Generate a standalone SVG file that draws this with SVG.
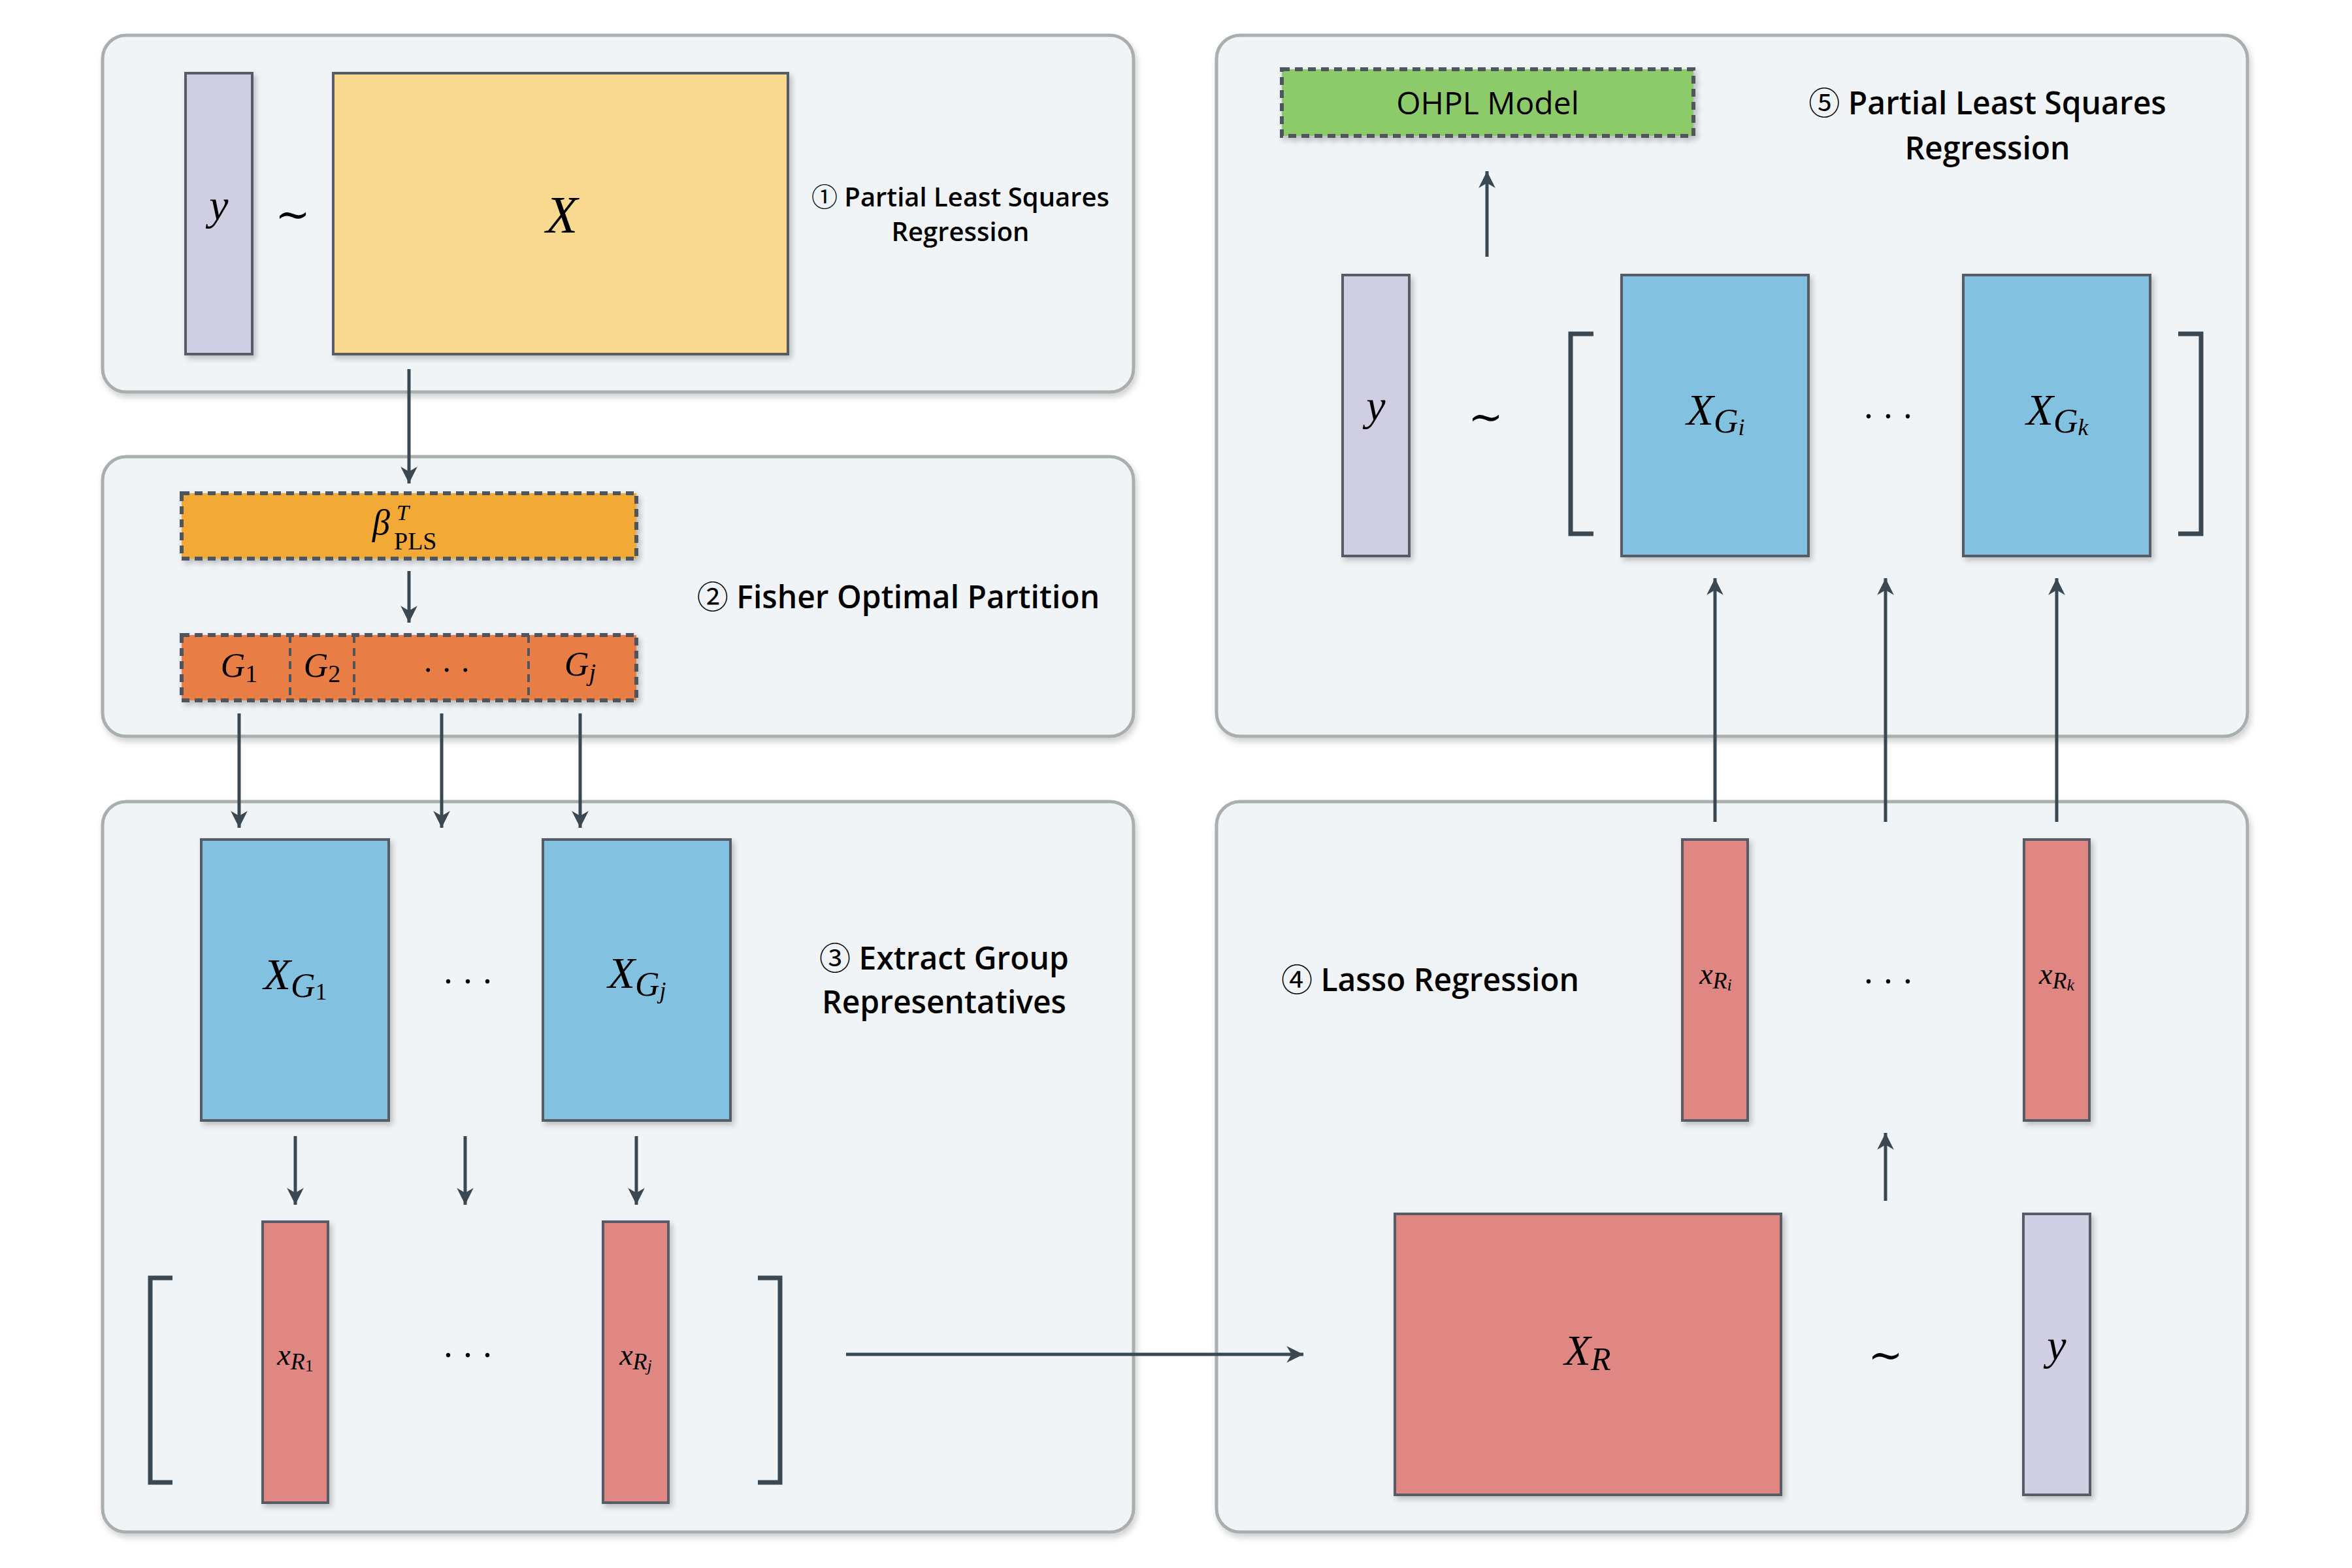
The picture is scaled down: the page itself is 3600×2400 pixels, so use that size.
<svg xmlns="http://www.w3.org/2000/svg" width="3600" height="2400" viewBox="0 0 3600 2400">
<defs>
<filter id="pshadow" x="-5%" y="-5%" width="110%" height="115%"><feDropShadow dx="3" dy="6" stdDeviation="5" flood-color="#000" flood-opacity="0.18"/></filter>
<filter id="nshadow" x="-10%" y="-10%" width="130%" height="130%"><feDropShadow dx="4" dy="5" stdDeviation="4" flood-color="#000" flood-opacity="0.22"/></filter>
<marker id="ah" markerUnits="userSpaceOnUse" markerWidth="30" markerHeight="30" viewBox="-26 -14 28 28" refX="0" refY="0" orient="auto">
<path d="M0,0 L-24,-12 L-17,0 L-24,12 Z" fill="#3b4852"/>
</marker>
<style>
.panel{fill:#f0f4f7;stroke:#a9aeae;stroke-width:5;filter:url(#pshadow)}
.box{stroke:#555c65;stroke-width:4;filter:url(#nshadow)}
.dash{stroke:#4f555c;stroke-width:6;stroke-dasharray:12 8;filter:url(#nshadow)}
.ydata{fill:#d0cee3}
.xdata{fill:#f9d98f}
.blue{fill:#82c2e0}
.red{fill:#e08783}
.conn{stroke:#3b4852;stroke-width:5;fill:none}
.brk{stroke:#3b4852;stroke-width:7;fill:none}
.lbl{font-family:"Open Sans","Noto Sans","DejaVu Sans",sans-serif;font-weight:600;fill:#000;text-anchor:middle}
.cd{font-family:"Noto Sans CJK JP","DejaVu Sans",sans-serif;font-weight:400}
.m{font-family:"Liberation Serif","DejaVu Serif",serif;font-style:italic;fill:#000;text-anchor:middle}
.up{font-style:normal}
.tl{font-family:"DejaVu Serif","DejaVu Sans",serif;fill:#000;text-anchor:middle}
.dots{font-family:"Liberation Serif",serif;fill:#000;letter-spacing:16px}
</style>
</defs>
<rect width="3600" height="2400" fill="#ffffff"/>

<g id="panels">
<rect id="panel1" class="panel" x="157" y="54" width="1578" height="546" rx="36"/>
<rect id="panel2" class="panel" x="157" y="699" width="1578" height="428" rx="36"/>
<rect id="panel3" class="panel" x="157" y="1227" width="1578" height="1118" rx="36"/>
<rect id="panel5" class="panel" x="1862" y="54" width="1578" height="1073" rx="36"/>
<rect id="panel4" class="panel" x="1862" y="1227" width="1578" height="1118" rx="36"/>
</g>

<g id="panel-labels">
<text class="lbl" x="1470" y="316" font-size="40"><tspan class="cd">①</tspan> Partial Least Squares</text>
<text class="lbl" x="1470" y="369" font-size="40">Regression</text>
<text class="lbl" x="1375" y="931" font-size="48"><tspan class="cd">②</tspan> Fisher Optimal Partition</text>
<text class="lbl" x="1445" y="1484" font-size="48"><tspan class="cd">③</tspan> Extract Group</text>
<text class="lbl" x="1445" y="1551" font-size="48">Representatives</text>
<text class="lbl" x="2189" y="1517" font-size="48"><tspan class="cd">④</tspan> Lasso Regression</text>
<text class="lbl" x="3042" y="175" font-size="48"><tspan class="cd">⑤</tspan> Partial Least Squares</text>
<text class="lbl" x="3042" y="244" font-size="48">Regression</text>
</g>

<g id="brackets">
<polyline class="brk" points="264,1956 230,1956 230,2269 264,2269"/>
<polyline class="brk" points="1160,1956 1194,1956 1194,2269 1160,2269"/>
<polyline class="brk" points="2439,511 2404,511 2404,817 2439,817"/>
<polyline class="brk" points="3334,511 3369,511 3369,817 3334,817"/>
</g>

<g id="connectors">
<line class="conn" x1="626" y1="565" x2="626" y2="740" marker-end="url(#ah)"/>
<line class="conn" x1="626" y1="874" x2="626" y2="953" marker-end="url(#ah)"/>
<line class="conn" x1="366" y1="1092" x2="366" y2="1267" marker-end="url(#ah)"/>
<line class="conn" x1="676" y1="1092" x2="676" y2="1267" marker-end="url(#ah)"/>
<line class="conn" x1="888" y1="1092" x2="888" y2="1267" marker-end="url(#ah)"/>
<line class="conn" x1="452" y1="1739" x2="452" y2="1844" marker-end="url(#ah)"/>
<line class="conn" x1="712" y1="1739" x2="712" y2="1844" marker-end="url(#ah)"/>
<line class="conn" x1="974" y1="1739" x2="974" y2="1844" marker-end="url(#ah)"/>
<line class="conn" x1="1295" y1="2073" x2="1995" y2="2073" marker-end="url(#ah)"/>
<line class="conn" x1="2886" y1="1838" x2="2886" y2="1734" marker-end="url(#ah)"/>
<line class="conn" x1="2625" y1="1258" x2="2625" y2="885" marker-end="url(#ah)"/>
<line class="conn" x1="2886" y1="1258" x2="2886" y2="885" marker-end="url(#ah)"/>
<line class="conn" x1="3148" y1="1258" x2="3148" y2="885" marker-end="url(#ah)"/>
<line class="conn" x1="2276" y1="393" x2="2276" y2="262" marker-end="url(#ah)"/>
</g>

<g id="node-y1">
<rect class="box ydata" x="284" y="112" width="102" height="430"/>
<text class="m" x="335" y="336" font-size="66">y</text>
</g>
<text class="tl" x="448" y="350" font-size="64">∼</text>
<g id="node-X">
<rect class="box xdata" x="510" y="112" width="696" height="430"/>
<text class="m" x="860" y="356" font-size="80">X</text>
</g>

<g id="node-beta">
<rect class="dash" x="278" y="755" width="696" height="100" fill="#f2a934"/>
<text class="m" x="570" y="818" font-size="54" style="text-anchor:start">β<tspan font-size="34" x="607" y="796">T</tspan><tspan class="up" font-size="38" x="603" y="841">PLS</tspan></text>
</g>

<g id="node-groups">
<rect class="dash" x="278" y="972" width="696" height="100" fill="#e87d45"/>
<line x1="444" y1="972" x2="444" y2="1072" stroke="#4f555c" stroke-width="4" stroke-dasharray="12 8"/>
<line x1="542" y1="972" x2="542" y2="1072" stroke="#4f555c" stroke-width="4" stroke-dasharray="12 8"/>
<line x1="809" y1="972" x2="809" y2="1072" stroke="#4f555c" stroke-width="4" stroke-dasharray="12 8"/>
<text class="m" x="366" y="1036" font-size="52">G<tspan class="up" font-size="38" dy="8">1</tspan></text>
<text class="m" x="493" y="1036" font-size="52">G<tspan class="up" font-size="38" dy="8">2</tspan></text>
<text class="dots" x="649" y="1028" font-size="50" letter-spacing="12">...</text>
<text class="m" x="888" y="1034" font-size="52">G<tspan font-size="38" dy="8">j</tspan></text>
</g>

<g id="node-XG1">
<rect class="box blue" x="308" y="1285" width="287" height="430"/>
<text class="m" x="452" y="1514" font-size="68">X<tspan font-size="52" dy="12">G</tspan><tspan class="up" font-size="36" dy="4">1</tspan></text>
</g>
<text class="dots" x="679" y="1505" font-size="56" letter-spacing="14">...</text>
<g id="node-XGj">
<rect class="box blue" x="831" y="1285" width="287" height="430"/>
<text class="m" x="975" y="1512" font-size="68">X<tspan font-size="52" dy="12">G</tspan><tspan font-size="36" dy="4">j</tspan></text>
</g>

<g id="node-xR1">
<rect class="box red" x="402" y="1870" width="100" height="430"/>
<text class="m" x="452" y="2089" font-size="46">x<tspan font-size="36" dy="7">R</tspan><tspan class="up" font-size="26" dy="3">1</tspan></text>
</g>
<text class="dots" x="679" y="2077" font-size="56" letter-spacing="14">...</text>
<g id="node-xRj">
<rect class="box red" x="923" y="1870" width="100" height="430"/>
<text class="m" x="973" y="2089" font-size="46">x<tspan font-size="36" dy="7">R</tspan><tspan font-size="26" dy="3">j</tspan></text>
</g>

<g id="node-XR">
<rect class="box red" x="2135" y="1858" width="591" height="430"/>
<text class="m" x="2430" y="2089" font-size="66">X<tspan font-size="50" dy="8">R</tspan></text>
</g>
<text class="tl" x="2886" y="2096" font-size="64">∼</text>
<g id="node-y4">
<rect class="box ydata" x="3097" y="1858" width="102" height="430"/>
<text class="m" x="3148" y="2081" font-size="66">y</text>
</g>

<g id="node-xRi">
<rect class="box red" x="2575" y="1285" width="100" height="430"/>
<text class="m" x="2626" y="1506" font-size="46">x<tspan font-size="36" dy="7">R</tspan><tspan font-size="26" dy="3">i</tspan></text>
</g>
<text class="dots" x="2853" y="1505" font-size="56" letter-spacing="14">...</text>
<g id="node-xRk">
<rect class="box red" x="3098" y="1285" width="100" height="430"/>
<text class="m" x="3148" y="1506" font-size="46">x<tspan font-size="36" dy="7">R</tspan><tspan font-size="26" dy="3">k</tspan></text>
</g>

<g id="node-OHPL">
<rect class="dash" x="1962" y="106" width="630" height="102" fill="#8dca6b"/>
<text x="2277" y="175" font-size="48" font-family="Open Sans, Noto Sans, sans-serif" text-anchor="middle" fill="#000">OHPL Model</text>
</g>

<g id="node-y5">
<rect class="box ydata" x="2055" y="421" width="102" height="430"/>
<text class="m" x="2106" y="643" font-size="66">y</text>
</g>
<text class="tl" x="2274" y="660" font-size="64">∼</text>
<g id="node-XGi">
<rect class="box blue" x="2482" y="421" width="286" height="430"/>
<text class="m" x="2626" y="650" font-size="68">X<tspan font-size="52" dy="12">G</tspan><tspan font-size="36" dy="4">i</tspan></text>
</g>
<text class="dots" x="2853" y="640" font-size="56" letter-spacing="14">...</text>
<g id="node-XGk">
<rect class="box blue" x="3005" y="421" width="286" height="430"/>
<text class="m" x="3149" y="650" font-size="68">X<tspan font-size="52" dy="12">G</tspan><tspan font-size="36" dy="4">k</tspan></text>
</g>
</svg>
